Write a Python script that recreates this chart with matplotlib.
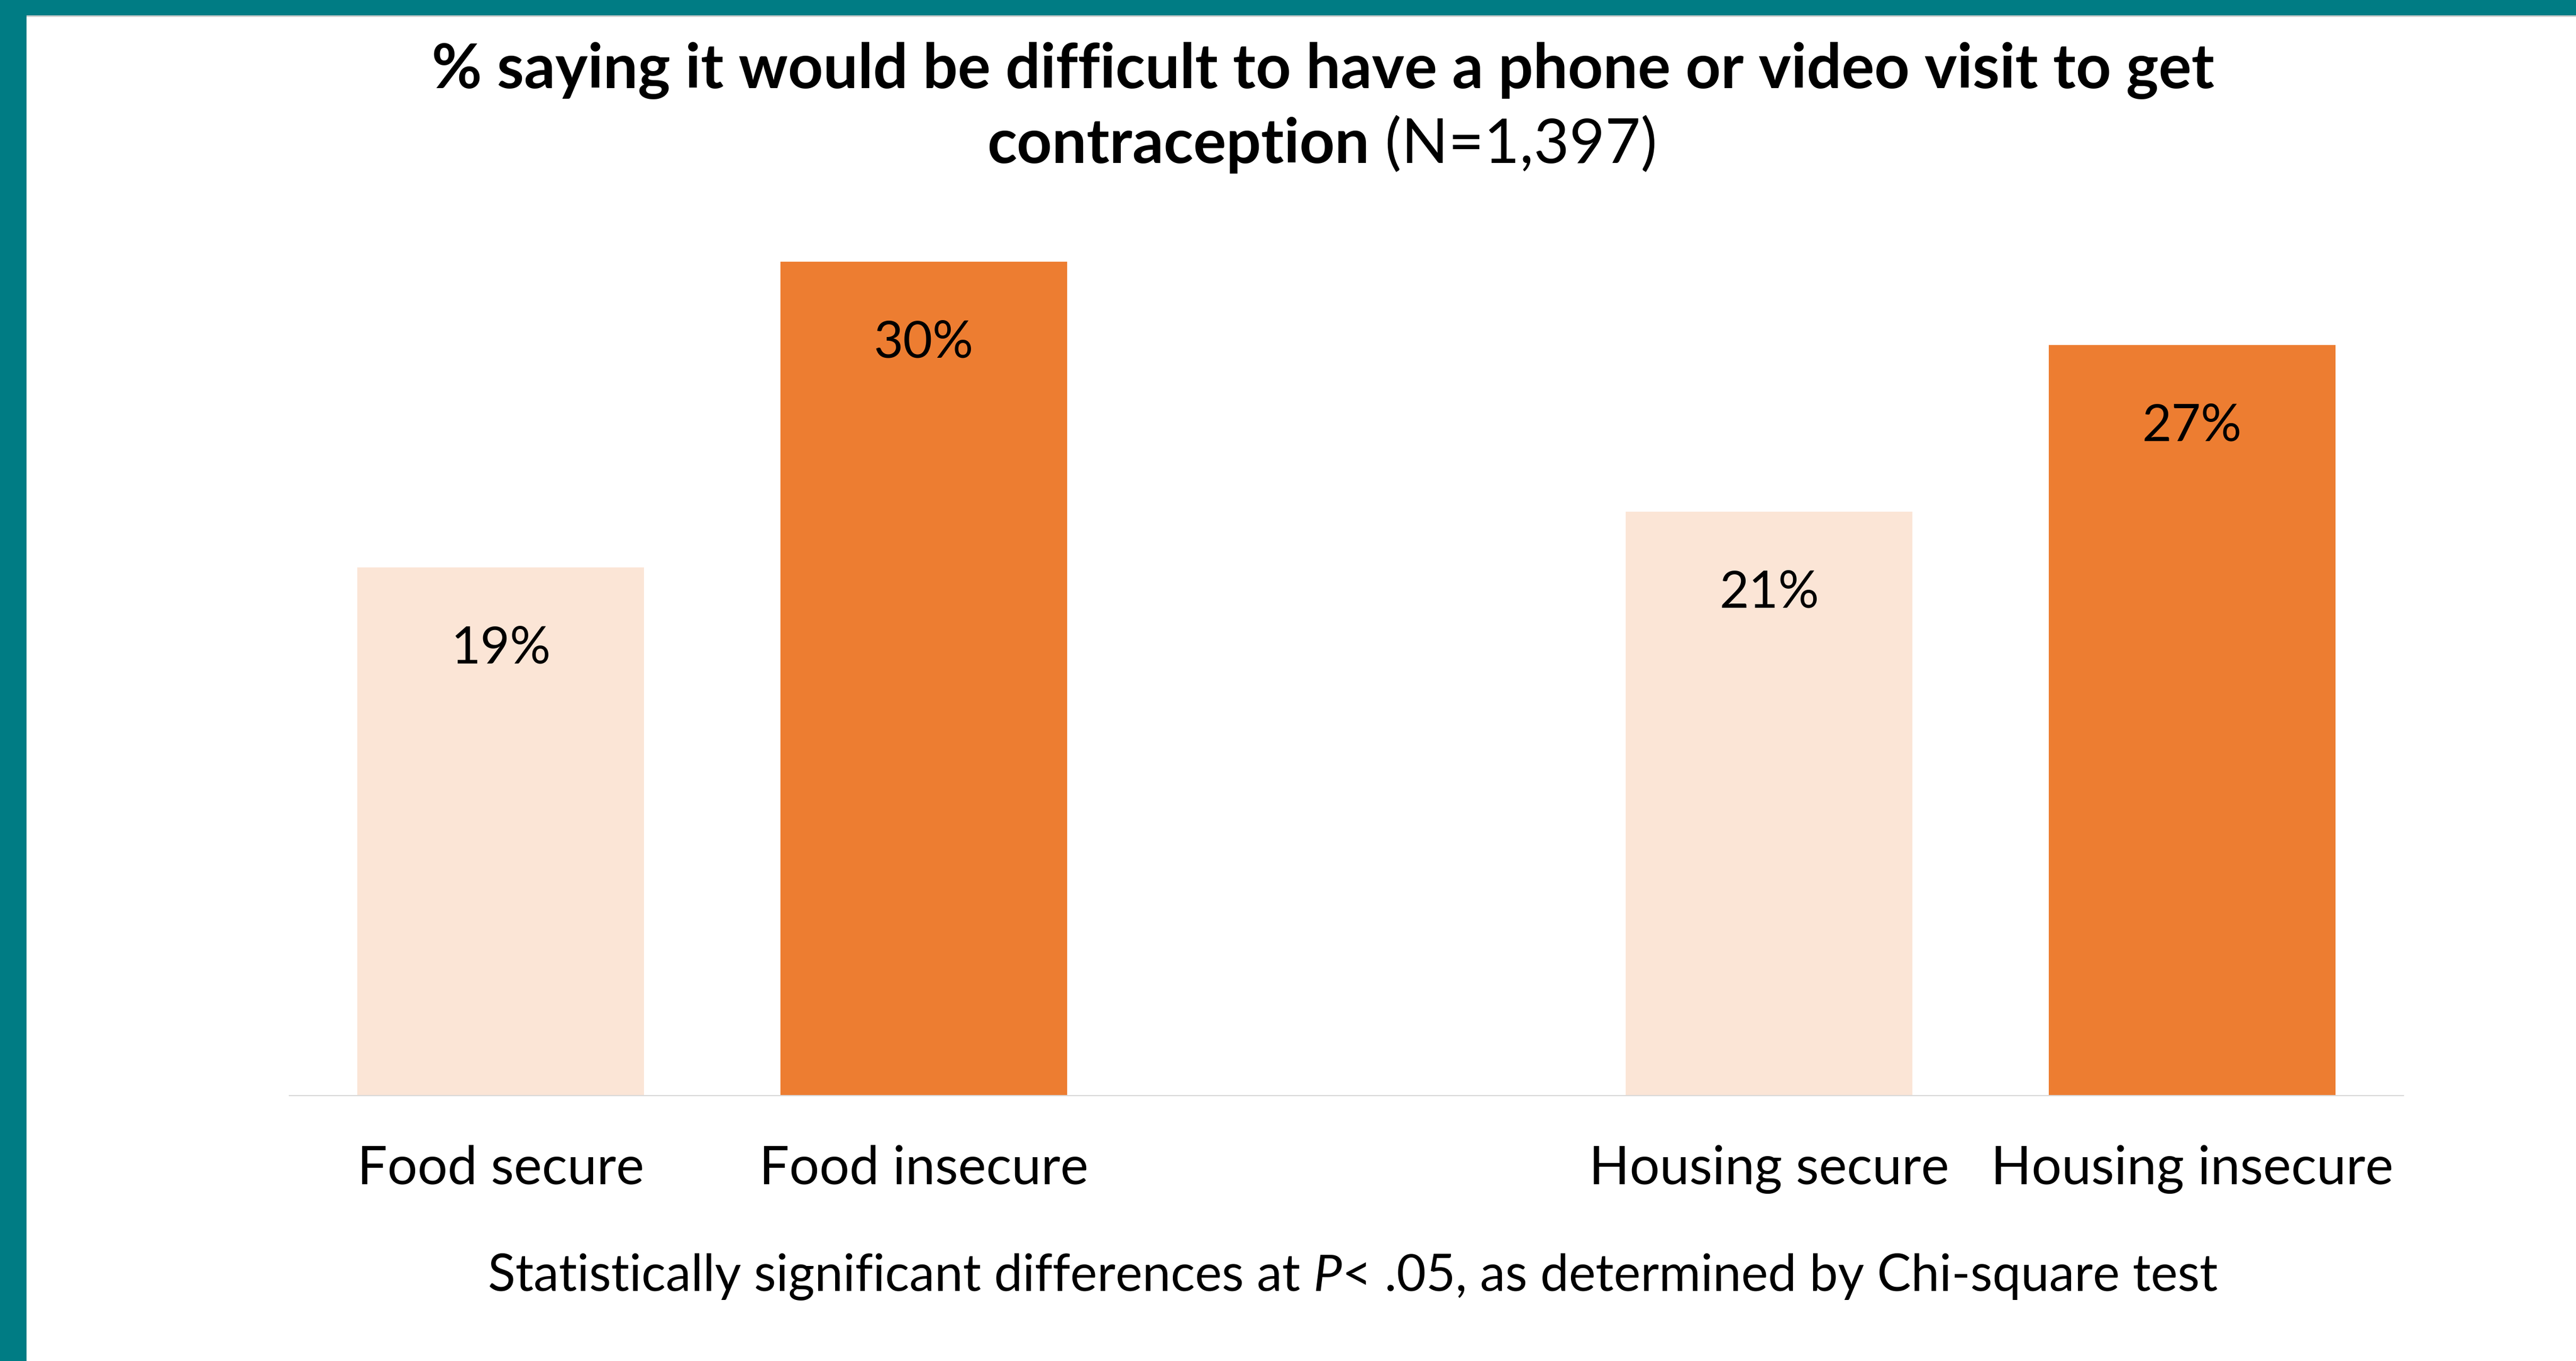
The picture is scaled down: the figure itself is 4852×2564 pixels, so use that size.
import matplotlib
matplotlib.use("Agg")
import matplotlib.pyplot as plt
from matplotlib.patches import Rectangle
import numpy as np

# ---------------- data ----------------
groups = ["Food", "Housing"]
categories = ["Food secure", "Food insecure", "Housing secure", "Housing insecure"]
values = [19, 30, 21, 27]
bar_colors = ["#FBE5D6", "#ED7D31", "#FBE5D6", "#ED7D31"]
title_bold_1 = "% saying it would be difficult to have a phone or video visit to get"
title_bold_2 = "contraception"
title_reg_2 = " (N=1,397)"
note_a = "Statistically significant differences at "
note_p = "P"
note_b = "< .05, as determined by Chi-square test"

W, H, DPI = 4852, 2564, 100
FONT = "Lato"
plt.rcParams["font.family"] = [FONT, "DejaVu Sans"]

fig = plt.figure(figsize=(W / DPI, H / DPI), dpi=DPI)
fig.patch.set_facecolor("white")

# decorative teal bands
fig.add_artist(Rectangle((0, 1 - 32 / H), 1, 3 / H, transform=fig.transFigure,
                         facecolor="#CFCFCF", edgecolor="none", zorder=0))
fig.add_artist(Rectangle((0, 1 - 29 / H), 1, 29 / H, transform=fig.transFigure,
                         facecolor="#007C84", edgecolor="none", zorder=1))
fig.add_artist(Rectangle((0, 0), 50 / W, 1, transform=fig.transFigure,
                         facecolor="#007C84", edgecolor="none", zorder=1))

# axes placement (pixels)
ax_left, ax_right = 545, 4527
ax_bottom, ax_top = 2064, 493
ax = fig.add_axes([ax_left / W, 1 - ax_bottom / H,
                   (ax_right - ax_left) / W, (ax_bottom - ax_top) / H])

n_per_group = len(categories) // len(groups)
positions = [gi * (n_per_group + 1) + j for gi in range(len(groups)) for j in range(n_per_group)]

ax.bar(positions, values, width=0.678, color=bar_colors, edgecolor="none", zorder=2)
ax.set_xlim(-0.5, max(positions) + 0.5)
ax.set_ylim(0, 30)

for p, v in zip(positions, values):
    ax.annotate(f"{v}%", xy=(p, v), xytext=(0, -130), textcoords="offset points",
                ha="center", va="baseline", fontsize=69, color="black", zorder=3)

ax.set_xticks(positions)
ax.set_xticklabels(categories, fontsize=72)
ax.tick_params(axis="x", length=0, pad=120)
for lbl in ax.get_xticklabels():
    lbl.set_va("baseline")
ax.set_yticks([])
for s in ["top", "left", "right"]:
    ax.spines[s].set_visible(False)
ax.spines["bottom"].set_color("#D9D9D9")
ax.spines["bottom"].set_linewidth(1.6)
ax.patch.set_alpha(0)

renderer = fig.canvas.get_renderer()


def seg_width(text, **kw):
    t1 = fig.text(0, 0, "x" + text + "x", **kw)
    t2 = fig.text(0, 0, "xx", **kw)
    w = t1.get_window_extent(renderer).width - t2.get_window_extent(renderer).width
    t1.remove()
    t2.remove()
    return w


def draw_segments(segments, cx, baseline):
    widths = [seg_width(s, **kw) for s, kw in segments]
    x = cx - sum(widths) / 2
    for (s, kw), w in zip(segments, widths):
        fig.text(x / W, 1 - baseline / H, s, ha="left", va="baseline", **kw)
        x += w


tsize = 83.3
draw_segments([(title_bold_1, dict(fontsize=tsize, fontweight="bold"))], 2492, 166)
draw_segments([(title_bold_2, dict(fontsize=tsize, fontweight="bold")),
               (title_reg_2, dict(fontsize=tsize, fontweight="normal"))], 2490, 307)

nsize = 68.9
draw_segments([(note_a, dict(fontsize=nsize)),
               (note_p, dict(fontsize=nsize, fontstyle="italic")),
               (note_b, dict(fontsize=nsize))], 2548, 2432)

fig.savefig("out.png", dpi=DPI, facecolor="white")
